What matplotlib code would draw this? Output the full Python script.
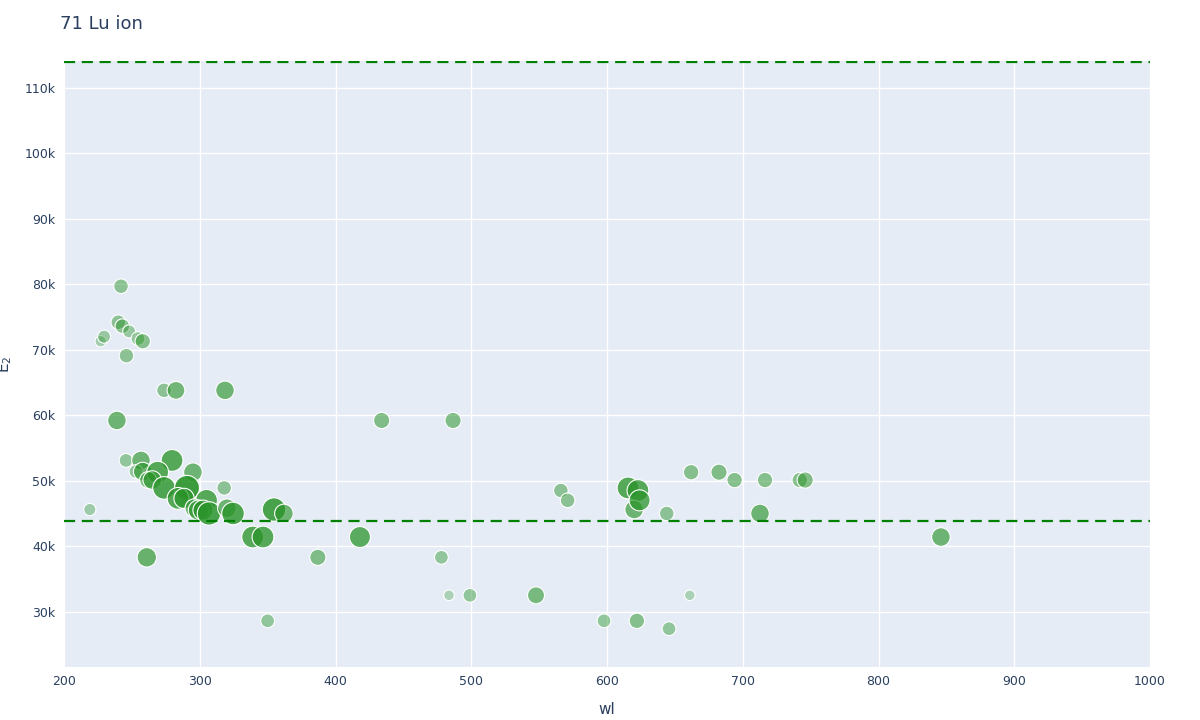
import matplotlib.pyplot as plt
import numpy as np

# wavelength (nm), upper level energy E2 (cm-1), relative weight (drives size/opacity)
wl = [219, 227, 229.5, 242, 240, 243, 248, 254.5, 258, 246, 273.7, 282.5, 318.6, 239,
      245.7, 256.7, 279.6, 253, 258, 269, 295, 262, 265, 273.7, 290.6, 318, 284, 288.4,
      305, 296, 299, 302.4, 306.8, 320, 324.5, 339, 346.6, 354.7, 362, 261, 350, 387,
      418, 434, 486.6, 478, 483.6, 499, 547.7, 566, 571, 597.8, 615.5, 622.8, 620, 624,
      622, 644, 645.7, 661, 662, 682.5, 694, 712.7, 716.4, 742, 746, 846]
E2 = [45.6, 71.3, 72.0, 79.7, 74.2, 73.6, 72.8, 71.7, 71.3, 69.1, 63.8, 63.8, 63.8, 59.2,
      53.1, 53.1, 53.1, 51.4, 51.4, 51.3, 51.3, 50.1, 50.1, 48.9, 48.9, 48.9, 47.3, 47.3,
      47.0, 45.8, 45.5, 45.5, 45.0, 45.8, 45.0, 41.4, 41.4, 45.6, 45.0, 38.3, 28.6, 38.3,
      41.4, 59.2, 59.2, 38.3, 32.5, 32.5, 32.5, 48.5, 47.0, 28.6, 48.9, 48.5, 45.6, 47.0,
      28.6, 45.0, 27.4, 32.5, 51.3, 51.3, 50.1, 45.0, 50.1, 50.1, 50.1, 41.4]
weight = [0.2, 0.15, 0.25, 0.35, 0.35, 0.35, 0.25, 0.3, 0.4, 0.35, 0.35, 0.55, 0.6, 0.6,
          0.3, 0.6, 0.8, 0.3, 0.6, 0.8, 0.6, 0.5, 0.6, 0.85, 1.0, 0.35, 0.8, 0.7,
          0.8, 0.6, 0.7, 0.7, 0.9, 0.6, 0.85, 0.8, 0.8, 0.9, 0.6, 0.65, 0.3, 0.45,
          0.75, 0.45, 0.45, 0.3, 0.1, 0.3, 0.5, 0.35, 0.35, 0.3, 0.8, 0.8, 0.6, 0.75,
          0.4, 0.35, 0.3, 0.1, 0.4, 0.45, 0.4, 0.6, 0.4, 0.4, 0.45, 0.6]
hlines = [113.97, 43.8]

fig = plt.figure(figsize=(12, 7.2), dpi=100)
ax = fig.add_axes([64/1200, 1 - 667/720, (1150-64)/1200, (667-61)/720])
ax.set_facecolor("#E5ECF6")

w = np.array(weight)
diam_px = 9 + 16 * w
sizes = (diam_px / 1.389) ** 2
colors = [(0.16, 0.58, 0.16, 0.25 + 0.65 * wi) for wi in w]
ax.scatter(np.array(wl), np.array(E2) * 1000, s=sizes, c=colors,
           edgecolors="white", linewidths=0.8, zorder=3)
for h in hlines:
    ax.axhline(h * 1000, color="green", linestyle=(0, (5, 3)), linewidth=1.6, zorder=4)

ax.set_xlim(200, 1000)
ax.set_ylim(21550, 114100)
ax.set_xticks(range(200, 1001, 100))
ax.set_yticks(range(30000, 110001, 10000))
ax.set_yticklabels([f"{v}k" for v in range(30, 111, 10)])
ax.grid(True, color="white", linewidth=1)
ax.set_axisbelow(True)
for s in ax.spines.values():
    s.set_visible(False)
ax.tick_params(length=0, labelsize=9, colors="#2a3f5f", pad=6)
ax.set_xlabel("wl", fontsize=11, color="#2a3f5f", labelpad=10)
ax.set_ylabel("E$_2$", fontsize=11, color="#2a3f5f")
ax.yaxis.set_label_coords(-50/1086, 0.5)
fig.text(60/1200, 1 - 24/720, "71 Lu ion", fontsize=13, color="#2a3f5f", va="center")

fig.savefig("out.png", dpi=100)
